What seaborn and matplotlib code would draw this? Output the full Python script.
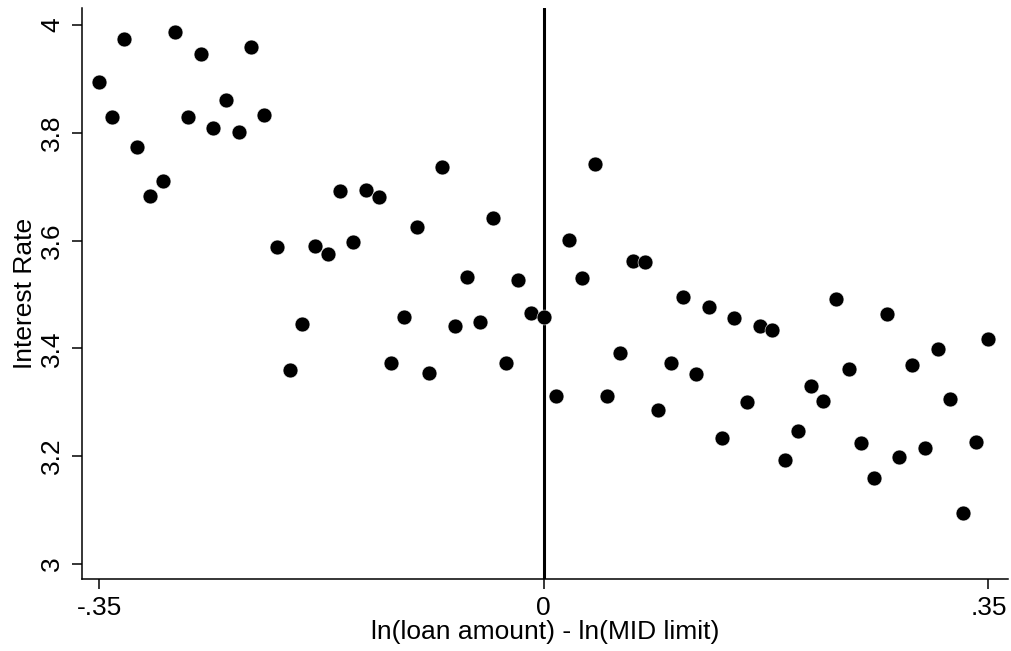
import matplotlib.pyplot as plt
import pandas as pd
import seaborn as sns

# binned means: loan amount relative to MID limit vs interest rate
bin_x = [-0.35, -0.34, -0.33, -0.32, -0.31, -0.30, -0.29, -0.28, -0.27, -0.26,
         -0.25, -0.24, -0.23, -0.22, -0.21, -0.20, -0.19, -0.18, -0.17, -0.16,
         -0.15, -0.14, -0.13, -0.12, -0.11, -0.10, -0.09, -0.08, -0.07, -0.06,
         -0.05, -0.04, -0.03, -0.02, -0.01, 0.00, 0.01, 0.02, 0.03, 0.04,
         0.05, 0.06, 0.07, 0.08, 0.09, 0.10, 0.11, 0.12, 0.13, 0.14,
         0.15, 0.16, 0.17, 0.18, 0.19, 0.20, 0.21, 0.22, 0.23, 0.24,
         0.25, 0.26, 0.27, 0.28, 0.29, 0.30, 0.31, 0.32, 0.33, 0.34, 0.35]
rate = [3.894, 3.829, 3.975, 3.774, 3.683, 3.710, 3.988, 3.829, 3.947, 3.809,
        3.861, 3.801, 3.959, 3.833, 3.589, 3.359, 3.445, 3.590, 3.576, 3.692,
        3.598, 3.693, 3.680, 3.372, 3.459, 3.626, 3.354, 3.737, 3.441, 3.532,
        3.449, 3.642, 3.372, 3.527, 3.466, 3.458, 3.312, 3.602, 3.531, 3.743,
        3.312, 3.391, 3.562, 3.560, 3.286, 3.372, 3.496, 3.353, 3.477, 3.234,
        3.457, 3.300, 3.442, 3.434, 3.192, 3.247, 3.330, 3.302, 3.492, 3.362,
        3.224, 3.160, 3.463, 3.199, 3.370, 3.215, 3.399, 3.306, 3.095, 3.227, 3.417]

x_ticks = [-0.35, 0, 0.35]
x_ticklabels = ["-.35", "0", ".35"]
y_ticks = [3, 3.2, 3.4, 3.6, 3.8, 4]
y_ticklabels = ["3", "3.2", "3.4", "3.6", "3.8", "4"]

if __name__ == '__main__':
    sns.set_theme(style="ticks")
    plt.rcParams['font.family'] = ['Liberation Sans', 'DejaVu Sans']
    plt.rcParams['text.color'] = 'black'
    plt.rcParams['axes.labelcolor'] = 'black'

    data = pd.DataFrame({"x": bin_x, "rate": rate})

    fig = plt.figure(figsize=(10.11, 6.51), dpi=100)
    ax = fig.add_axes([0.0811, 0.1106, 0.916, 0.877])

    sns.scatterplot(x="x", y="rate", data=data, ax=ax, color="black",
                    s=115, edgecolor="white", linewidth=0.4, zorder=3)
    ax.axvline(0, color="black", linewidth=2.2, zorder=2)

    ax.set_xlim(-0.3634, 0.3655)
    ax.set_ylim(2.972, 4.0315)
    ax.set_xticks(x_ticks)
    ax.set_xticklabels(x_ticklabels)
    ax.set_yticks(y_ticks)
    ax.set_yticklabels(y_ticklabels, rotation=90, va="center")

    ax.tick_params(axis="both", direction="out", length=7, width=1.1,
                   labelsize=19, color="black", labelcolor="black")
    ax.tick_params(axis="x", pad=5)
    ax.tick_params(axis="y", pad=6)

    for side in ["top", "right"]:
        ax.spines[side].set_visible(False)
    for side in ["left", "bottom"]:
        ax.spines[side].set_linewidth(1.1)
        ax.spines[side].set_color("black")

    ax.set_xlabel("ln(loan amount) - ln(MID limit)", fontsize=19, labelpad=0)
    ax.set_ylabel("Interest Rate", fontsize=19, labelpad=2)

    fig.savefig("out.png", dpi=100, facecolor="white")
